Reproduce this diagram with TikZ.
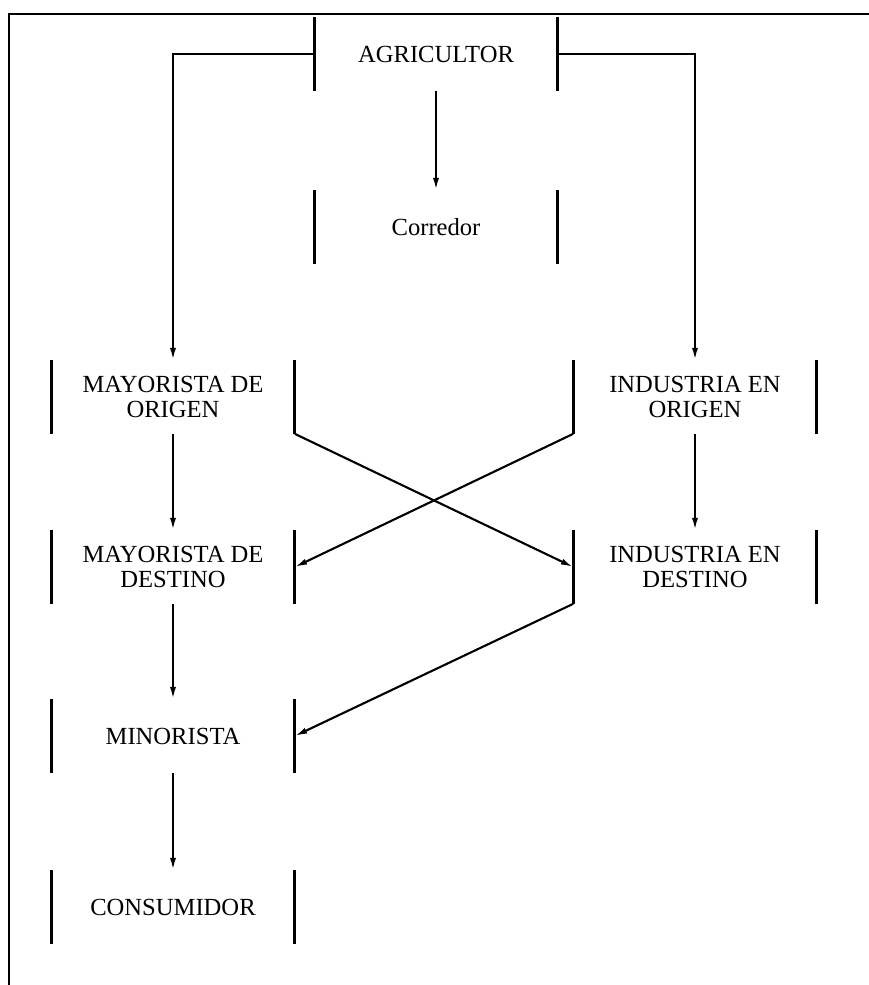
\documentclass[tikz,border=0pt]{standalone}
\usepackage{fontspec}
\setmainfont{Liberation Serif}
\usepackage {tikz}
\usetikzlibrary{arrows.meta}

\begin{document}
\begin{tikzpicture}[x=0.02cm,y=-0.02cm]
\useasboundingbox (0,0) rectangle (869,985);
% page frame
\draw[line width=0.6pt] (869,14) -- (9,14) -- (9,985);

\begin{scope}[every node/.style={minimum width=4.86cm,minimum height=1.46cm,inner sep=0pt,
                                 align=center,font=\fontsize{14}{14.5}\selectfont}]
   \node (agr) at (436, 54) {AGRICULTOR};
   \node (corr) at (436, 227) {Corredor};

   \node (mo) at (173, 397) {MAYORISTA DE\\ORIGEN};
   \node (io) at (695, 397) {INDUSTRIA EN\\ORIGEN};
   \node (md) at (173, 567) {MAYORISTA DE\\DESTINO};
   \node (id) at (695, 567) {INDUSTRIA EN\\DESTINO};

   \node (mi) at (173, 736) {MINORISTA};
   \node (co) at (173, 907) {CONSUMIDOR};
\end{scope}

% side bars of the boxes
\begin{scope}[line width=1.6pt]
   \draw (agr.north west) -- (agr.south west) (agr.north east) -- (agr.south east);
   \draw (corr.north west) -- (corr.south west) (corr.north east) -- (corr.south east);
   \draw (mo.north west) -- (mo.south west) (mo.north east) -- (mo.south east);
   \draw (io.north west) -- (io.south west) (io.north east) -- (io.south east);
   \draw (md.north west) -- (md.south west) (md.north east) -- (md.south east);
   \draw (id.north west) -- (id.south west) (id.north east) -- (id.south east);
   \draw (mi.north west) -- (mi.south west) (mi.north east) -- (mi.south east);
   \draw (co.north west) -- (co.south west) (co.north east) -- (co.south east);
\end{scope}

\begin{scope}[line width=1.2pt, >={Latex[length=7pt,width=3.5pt]}]
   \draw [->] (agr.west) -| (mo.north);
   \draw [->] (agr.east) -| (io.north);
   \path [->] (agr.south) edge (corr.north);

   \path [->] (mo.south) edge (md.north);
   \path [->] (md.south) edge (mi.north);
   \path [->] (mi.south) edge (co.north);
   \path [->] (io.south) edge (id.north);

   \path [->] (mo.south east) edge (id.west);
   \path [->] (io.south west) edge (md.east);
   \path [->] (id.south west) edge (mi.east);
\end{scope}
\end{tikzpicture}
\end{document}
